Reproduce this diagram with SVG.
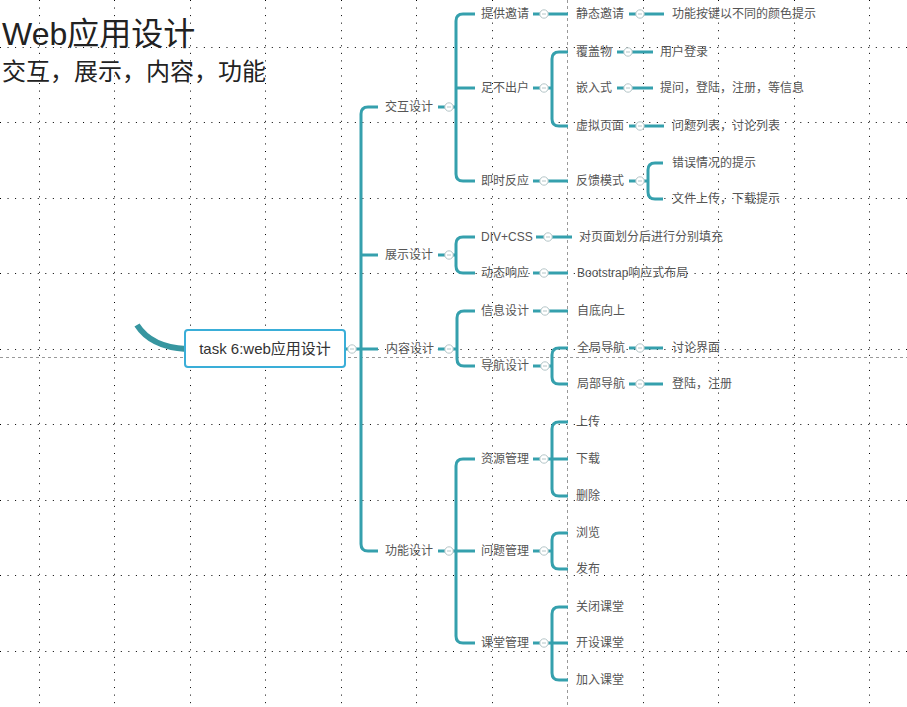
<svg xmlns="http://www.w3.org/2000/svg" width="907" height="707" viewBox="0 0 907 707">
<style>
.grid line{stroke:#000;stroke-width:1;stroke-dasharray:1 6.55}
.guide line{stroke:#999;stroke-width:1;stroke-dasharray:3 3}
.conn path{fill:none;stroke:#35a0ad;stroke-width:3}
.n text{font-family:"Liberation Sans","Noto Sans CJK SC",sans-serif;font-size:12px;fill:#555}
.c{fill:#fff;stroke:#b5c6c8;stroke-width:1}
.m{stroke:#b5c6c8;stroke-width:1}
.title{font-family:"Liberation Sans","Noto Sans CJK SC",sans-serif;fill:#222}
</style>
<defs>
<g id="col"><circle class="c" r="4.2"/><line class="m" x1="-2" y1="0" x2="2" y2="0"/></g>
</defs>
<rect width="907" height="707" fill="#fff"/>
<g class="grid">
<line x1="39.5" y1="0" x2="39.5" y2="707"/><line x1="114.5" y1="0" x2="114.5" y2="707"/><line x1="190.5" y1="0" x2="190.5" y2="707"/><line x1="265.5" y1="0" x2="265.5" y2="707"/><line x1="341.5" y1="0" x2="341.5" y2="707"/><line x1="416.5" y1="0" x2="416.5" y2="707"/><line x1="492.5" y1="0" x2="492.5" y2="707"/><line x1="643.5" y1="0" x2="643.5" y2="707"/><line x1="718.5" y1="0" x2="718.5" y2="707"/><line x1="794.5" y1="0" x2="794.5" y2="707"/><line x1="869.5" y1="0" x2="869.5" y2="707"/>
<line x1="0" y1="47.5" x2="907" y2="47.5"/><line x1="0" y1="122.5" x2="907" y2="122.5"/><line x1="0" y1="198.5" x2="907" y2="198.5"/><line x1="0" y1="273.5" x2="907" y2="273.5"/><line x1="0" y1="349.5" x2="907" y2="349.5"/><line x1="0" y1="424.5" x2="907" y2="424.5"/><line x1="0" y1="500.5" x2="907" y2="500.5"/><line x1="0" y1="575.5" x2="907" y2="575.5"/><line x1="0" y1="651.5" x2="907" y2="651.5"/>
</g>
<g class="guide"><line x1="567.5" y1="0" x2="567.5" y2="707"/><line x1="0" y1="357.5" x2="907" y2="357.5"/></g>
<text class="title" x="2" y="45"><tspan font-size="32">Web</tspan><tspan font-size="32">应用设计</tspan></text>
<text class="title" x="2" y="80" font-size="24">交互，展示，内容，功能</text>
<g class="conn">
<path d="M137 325Q151 347 186 349" style="stroke:#3796a0;stroke-width:6"/>
<path d="M345 349H378"/>
<path d="M378 107H368Q361 107 361 114V544Q361 551 368 551H378"/>
<path d="M361 255H378"/>
<path d="M438 107H456"/><path d="M475 14H463Q456 14 456 21V174Q456 181 463 181H475"/><path d="M456 88H475"/>
<path d="M533 14H568"/><path d="M629 14H664"/>
<path d="M533 88H552"/><path d="M568 52H559Q552 52 552 59V119Q552 126 559 126H568"/>
<path d="M617 52H653"/><path d="M617 88H653"/><path d="M629 126H664"/>
<path d="M533 181H568"/><path d="M629 181H648"/><path d="M663 163H655Q648 163 648 170V192Q648 199 655 199H663"/>
<path d="M438 255H456"/><path d="M475 237H463Q456 237 456 244V266Q456 273 463 273H475"/>
<path d="M536 237H572"/><path d="M533 273H568"/>
<path d="M438 349H457"/><path d="M475 311H464Q457 311 457 318V359Q457 366 464 366H475"/>
<path d="M533 311H568"/><path d="M533 366H552"/><path d="M568 348H559Q552 348 552 355V377Q552 384 559 384H568"/>
<path d="M629 348H663"/><path d="M629 384H663"/>
<path d="M438 551H456"/><path d="M475 459H463Q456 459 456 466V636Q456 643 463 643H475"/><path d="M456 551H475"/>
<path d="M533 459H552"/><path d="M568 422H559Q552 422 552 429V489Q552 496 559 496H568"/><path d="M552 459H568"/>
<path d="M533 551H552"/><path d="M568 533H559Q552 533 552 540V562Q552 569 559 569H568"/>
<path d="M533 643H568"/><path d="M568 607H559Q552 607 552 614V673Q552 680 559 680H568"/>
</g>
<g id="root" class="n">
<rect x="185" y="330" width="160" height="37" rx="3" fill="#fff" stroke="#3aaed8" stroke-width="2"/>
<text x="265" y="354" text-anchor="middle" style="font-size:15px;fill:#333">task 6:web应用设计</text>
<use href="#col" x="352" y="349"/>
</g>
<g id="n-jiaohu" class="n"><text x="385" y="111">交互设计</text><use href="#col" x="449" y="107"/></g>
<g id="n-zhanshi" class="n"><text x="385" y="259">展示设计</text><use href="#col" x="449" y="255"/></g>
<g id="n-neirong" class="n"><text x="386" y="353">内容设计</text><use href="#col" x="449" y="349"/></g>
<g id="n-gongneng" class="n"><text x="385" y="555">功能设计</text><use href="#col" x="449" y="551"/></g>
<g id="n-tigong" class="n"><text x="481" y="18">提供邀请</text><use href="#col" x="544" y="14"/></g>
<g id="n-jingtai" class="n"><text x="576" y="18">静态邀请</text><use href="#col" x="640" y="14"/></g>
<g id="n-gongneng-anjian" class="n"><text x="672" y="18">功能按键以不同的颜色提示</text></g>
<g id="n-zubuchuhu" class="n"><text x="481" y="92">足不出户</text><use href="#col" x="544" y="88"/></g>
<g id="n-fugaiwu" class="n"><text x="576" y="56">覆盖物</text><use href="#col" x="628" y="52"/></g>
<g id="n-yonghu" class="n"><text x="660" y="56">用户登录</text></g>
<g id="n-qianru" class="n"><text x="576" y="92">嵌入式</text><use href="#col" x="628" y="88"/></g>
<g id="n-tiwen" class="n"><text x="660" y="92">提问，登陆，注册，等信息</text></g>
<g id="n-xuni" class="n"><text x="576" y="130">虚拟页面</text><use href="#col" x="640" y="126"/></g>
<g id="n-wenti-liebiao" class="n"><text x="672" y="130">问题列表，讨论列表</text></g>
<g id="n-jishi" class="n"><text x="481" y="185">即时反应</text><use href="#col" x="544" y="181"/></g>
<g id="n-fankui" class="n"><text x="576" y="185">反馈模式</text><use href="#col" x="640" y="181"/></g>
<g id="n-cuowu" class="n"><text x="672" y="167">错误情况的提示</text></g>
<g id="n-wenjian" class="n"><text x="672" y="203">文件上传，下载提示</text></g>
<g id="n-divcss" class="n"><text x="481" y="241">DIV+CSS</text><use href="#col" x="548" y="237"/></g>
<g id="n-duiyemian" class="n"><text x="579" y="241">对页面划分后进行分别填充</text></g>
<g id="n-dongtai" class="n"><text x="481" y="277">动态响应</text><use href="#col" x="544" y="273"/></g>
<g id="n-bootstrap" class="n"><text x="577" y="277">Bootstrap响应式布局</text></g>
<g id="n-xinxi" class="n"><text x="481" y="315">信息设计</text><use href="#col" x="545" y="311"/></g>
<g id="n-zidi" class="n"><text x="577" y="315">自底向上</text></g>
<g id="n-daohang" class="n"><text x="481" y="370">导航设计</text><use href="#col" x="545" y="366"/></g>
<g id="n-quanju" class="n"><text x="577" y="352">全局导航</text><use href="#col" x="640" y="348"/></g>
<g id="n-taolun" class="n"><text x="672" y="352">讨论界面</text></g>
<g id="n-jubu" class="n"><text x="577" y="388">局部导航</text><use href="#col" x="640" y="384"/></g>
<g id="n-denglu" class="n"><text x="672" y="388">登陆，注册</text></g>
<g id="n-ziyuan" class="n"><text x="481" y="463">资源管理</text><use href="#col" x="544" y="459"/></g>
<g id="n-shangchuan" class="n"><text x="576" y="426">上传</text></g>
<g id="n-xiazai" class="n"><text x="576" y="463">下载</text></g>
<g id="n-shanchu" class="n"><text x="576" y="500">删除</text></g>
<g id="n-wenti" class="n"><text x="481" y="555">问题管理</text><use href="#col" x="544" y="551"/></g>
<g id="n-liulan" class="n"><text x="576" y="537">浏览</text></g>
<g id="n-fabu" class="n"><text x="576" y="573">发布</text></g>
<g id="n-ketang" class="n"><text x="481" y="647">课堂管理</text><use href="#col" x="544" y="643"/></g>
<g id="n-guanbi" class="n"><text x="576" y="611">关闭课堂</text></g>
<g id="n-kaishe" class="n"><text x="576" y="647">开设课堂</text></g>
<g id="n-jiaru" class="n"><text x="576" y="684">加入课堂</text></g>
</svg>
